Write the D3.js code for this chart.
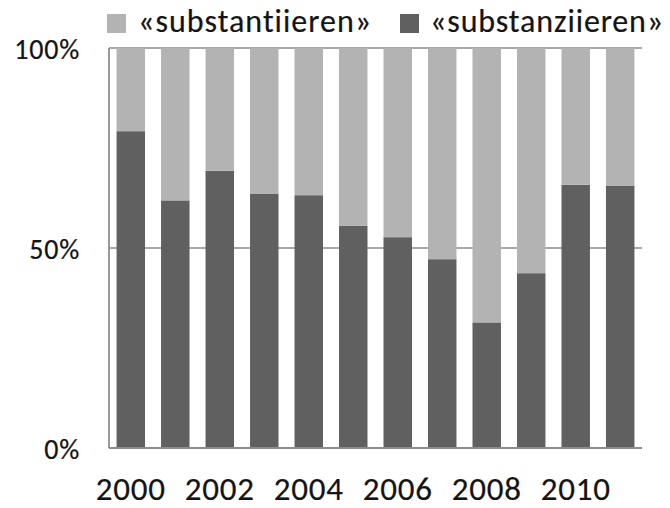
<!DOCTYPE html>
<html>
<head>
<meta charset="utf-8">
<script src="https://cdn.jsdelivr.net/npm/d3@7/dist/d3.min.js"></script>
<style>
  html, body { margin: 0; padding: 0; background: #fff; }
  svg { display: block; font-family: Carlito, Lato, "Open Sans", sans-serif; }
  .lbl { fill: #141414; stroke: #141414; stroke-width: 0.2px; }
</style>
</head>
<body>
<svg id="chart" width="670" height="508"></svg>
<script>
// Share of each spelling per year (percent of all occurrences)
const years = [2000, 2001, 2002, 2003, 2004, 2005, 2006, 2007, 2008, 2009, 2010, 2011];
const substanziieren = [79.2, 61.9, 69.3, 63.5, 63.2, 55.6, 52.7, 47.2, 31.4, 43.7, 65.8, 65.5];
const substantiieren = substanziieren.map(v => 100 - v);
const seriesNames = ["«substantiieren»", "«substanziieren»"];
const seriesColors = ["#b3b3b3", "#606060"];
const yTicks = [0, 50, 100];
const xLabelYears = [2000, 2002, 2004, 2006, 2008, 2010];

const svg = d3.select("#chart");
const plot = { left: 109, right: 642, top: 48, bottom: 448 };

const x = d3.scaleBand()
  .domain(years)
  .range([plot.left, plot.right])
  .paddingInner(0.36)
  .paddingOuter(0.17);

const y = d3.scaleLinear().domain([0, 100]).range([plot.bottom, plot.top]);

// Spread a label's letters so it spans the given width
function spreadTo(sel, width) {
  sel.each(function () {
    const t = d3.select(this);
    const n = this.textContent.length;
    const natural = this.getComputedTextLength();
    t.attr("letter-spacing", Math.max(0, (width - natural) / n));
  });
}

// Horizontal gridlines
svg.append("g")
  .selectAll("line")
  .data(yTicks)
  .join("line")
  .attr("x1", plot.left).attr("x2", plot.right)
  .attr("y1", d => y(d)).attr("y2", d => y(d))
  .attr("stroke", "#8c8c8c")
  .attr("stroke-width", 1.5);

// Stacked bars
const rows = years.map((yr, i) => ({ year: yr, dark: substanziieren[i], light: substantiieren[i] }));
const stack = d3.stack().keys(["dark", "light"]);
const layers = stack(rows);
const layerColor = { dark: seriesColors[1], light: seriesColors[0] };

svg.append("g")
  .selectAll("g")
  .data(layers)
  .join("g")
  .attr("fill", d => layerColor[d.key])
  .selectAll("rect")
  .data(d => d)
  .join("rect")
  .attr("x", d => x(d.data.year))
  .attr("width", x.bandwidth())
  .attr("y", d => y(d[1]))
  .attr("height", d => y(d[0]) - y(d[1]));

// Left axis line
svg.append("line")
  .attr("x1", plot.left).attr("x2", plot.left)
  .attr("y1", y(0)).attr("y2", y(100))
  .attr("stroke", "#999")
  .attr("stroke-width", 2);

// Bottom axis line
svg.append("line")
  .attr("x1", plot.left).attr("x2", plot.right)
  .attr("y1", y(0)).attr("y2", y(0))
  .attr("stroke", "#8c8c8c")
  .attr("stroke-width", 2);

// Y tick labels
const yAxis = d3.axisLeft(y).tickValues(yTicks).tickFormat(d => d + "%").tickSize(0).tickPadding(29);
const gy = svg.append("g").attr("transform", `translate(${plot.left},2)`).call(yAxis);
gy.select(".domain").remove();
gy.selectAll("text")
  .attr("class", "lbl")
  .attr("font-size", 28)
  .attr("letter-spacing", 0.8)
  .attr("font-family", "Carlito, Lato, sans-serif");

// X tick labels (every second year)
const xAxis = d3.axisBottom(x).tickValues(xLabelYears).tickSize(0).tickPadding(29);
const gx = svg.append("g").attr("transform", `translate(0,${plot.bottom})`).call(xAxis);
gx.select(".domain").remove();
gx.selectAll("text")
  .attr("class", "lbl")
  .attr("font-size", 33)
  .attr("font-family", "Carlito, Lato, sans-serif")
  .call(spreadTo, 70);

// Legend
const legendX = [107, 400];
const legend = svg.append("g")
  .selectAll("g")
  .data(seriesNames)
  .join("g")
  .attr("transform", (d, i) => `translate(${legendX[i]},0)`);
legend.append("rect")
  .attr("x", 0).attr("y", 14)
  .attr("width", 19).attr("height", 19)
  .attr("fill", (d, i) => seriesColors[i]);
legend.append("text")
  .attr("class", "lbl")
  .attr("x", (d, i) => i === 0 ? 31 : 30)
  .attr("y", 32)
  .attr("font-size", 32)
  .text(d => d)
  .call(spreadTo, 234);
</script>
</body>
</html>
